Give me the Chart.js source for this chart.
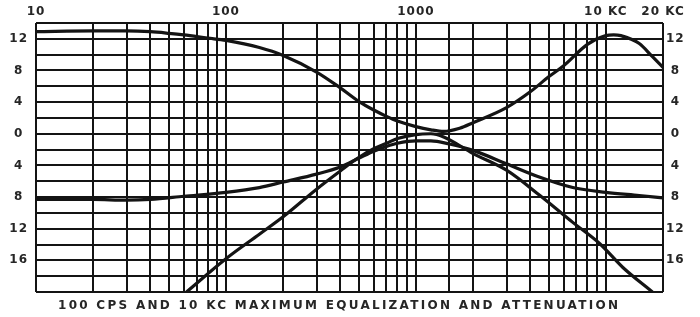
<!DOCTYPE html>
<html><head><meta charset="utf-8">
<script src="https://cdn.jsdelivr.net/npm/chart.js@4/dist/chart.umd.min.js"></script>
<style>html,body{margin:0;padding:0;background:#fff;}#wrap{width:700px;height:317px;position:relative;}</style>
</head><body><div id="wrap"><canvas id="c" width="700" height="317"></canvas></div>
<script>
// ---- data ----
const freqBoost = [10,20,30,40,50,60,80,100,150,200,300,400,500,600,700,800,1000,1200,1400,1700,2000,3000,4000,5000,6000,8000,10000,11000,12000,15000,17500,20000];
const dbBoost   = [12.9,13.0,13.0,12.9,12.7,12.5,12.1,11.8,10.9,9.9,7.8,5.8,4.1,3.0,2.2,1.6,0.9,0.5,0.3,0.7,1.4,3.3,5.3,7.2,8.6,11.3,12.4,12.5,12.4,11.4,9.8,8.4];

const freqCut = [10,20,30,40,60,100,150,200,300,400,500,600,700,800,1000,1200,1500,2000,3000,4500,6700,10000,15000,20000];
const dbCut   = [-8.3,-8.3,-8.4,-8.3,-7.9,-7.4,-6.8,-6.1,-5.1,-4.2,-3.1,-2.2,-1.6,-1.2,-0.9,-0.9,-1.3,-2.1,-3.8,-5.5,-6.8,-7.4,-7.8,-8.1];

const freqSteep = [62,100,150,200,300,400,500,600,700,800,1000,1200,1400,2000,3000,4500,6700,9300,12300,17600];
const dbSteep   = [-20,-15.8,-12.7,-10.5,-7.0,-4.7,-3.0,-1.9,-1.2,-0.6,-0.1,0.0,-0.4,-2.5,-4.6,-7.8,-11.2,-13.9,-16.9,-20];

const xGridValues = [10,20,30,40,50,60,70,80,90,100,200,300,400,500,600,700,800,900,1000,1500,2000,3000,4000,5000,6000,7000,8000,9000,10000,20000];
const xTickValues = [10,100,1000,10000,20000];
const xTickText   = ['10','100','1000','10 KC','20 KC'];
const yGridValues = [-20,-18,-16,-14,-12,-10,-8,-6,-4,-2,0,2,4,6,8,10,12,14];
const yTickValues = [-16,-12,-8,-4,0,4,8,12];
const caption = '100 CPS AND 10 KC MAXIMUM EQUALIZATION AND ATTENUATION';

// ---- chart ----
const toPts = (fs, vs) => fs.map((f, i) => ({x: f, y: vs[i]}));
const INK = '#141414';
const TXT = '#262626';
const font = {family: '"DejaVu Sans", sans-serif', size: 12, weight: 'bold'};

const lineDs = (data) => ({data, borderColor: INK, borderWidth: 3.2, pointRadius: 0, fill: false, cubicInterpolationMode: 'monotone'});

const yTickCb = (v) => yTickValues.includes(v) ? String(Math.abs(v)) : '';

const spacingPlugin = {
  id: 'spacing',
  beforeDraw(chart) { chart.ctx.letterSpacing = '1px'; }
};
const captionPlugin = {
  id: 'caption',
  afterDraw(chart) {
    const ctx = chart.ctx;
    ctx.save();
    ctx.font = 'bold 12px "DejaVu Sans", sans-serif';
    ctx.letterSpacing = '0px';
    const w0 = ctx.measureText(caption).width;
    const sp = (560 - w0) / (caption.length - 1);
    ctx.letterSpacing = sp.toFixed(2) + 'px';
    ctx.fillStyle = TXT;
    ctx.textAlign = 'left';
    ctx.textBaseline = 'middle';
    ctx.fillText(caption, 58, 306);
    ctx.restore();
  }
};

new Chart(document.getElementById('c'), {
  type: 'line',
  data: {datasets: [lineDs(toPts(freqBoost, dbBoost)), lineDs(toPts(freqCut, dbCut)), lineDs(toPts(freqSteep, dbSteep))]},
  options: {
    responsive: false, animation: false,
    layout: {padding: {left: 0, right: 13, top: 0, bottom: 25}},
    plugins: {legend: {display: false}, tooltip: {enabled: false}, title: {display: false}},
    scales: {
      x: {
        type: 'logarithmic', position: 'top', min: 10, max: 20000,
        afterBuildTicks: s => { s.ticks = xGridValues.map(v => ({value: v})); },
        afterFit: s => { s.height = 23; },
        grid: {color: INK, lineWidth: 2, drawTicks: false},
        border: {display: false},
        ticks: {autoSkip: false, maxRotation: 0, minRotation: 0, padding: 4, color: TXT, font,
          callback: (v) => { const i = xTickValues.indexOf(v); return i >= 0 ? xTickText[i] : ''; }}
      },
      y: {
        type: 'linear', position: 'left', min: -20, max: 14,
        afterBuildTicks: s => { s.ticks = yGridValues.map(v => ({value: v})); },
        afterFit: s => { s.width = 36; },
        grid: {color: INK, lineWidth: 2, drawTicks: false},
        border: {display: false},
        ticks: {autoSkip: false, crossAlign: 'center', padding: 9, color: TXT, font, callback: yTickCb}
      },
      y2: {
        type: 'linear', position: 'right', min: -20, max: 14, display: true,
        afterBuildTicks: s => { s.ticks = yGridValues.map(v => ({value: v})); },
        afterFit: s => { s.width = 24; },
        grid: {display: false, drawTicks: false},
        border: {display: false},
        ticks: {autoSkip: false, crossAlign: 'center', padding: 4, color: TXT, font, callback: yTickCb}
      }
    }
  },
  plugins: [spacingPlugin, captionPlugin]
});
</script></body></html>
